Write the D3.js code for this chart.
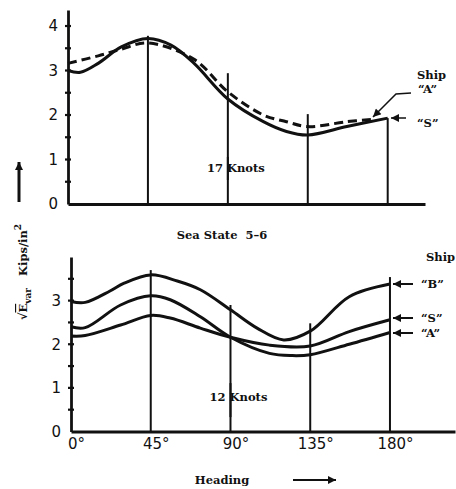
<!DOCTYPE html>
<html>
<head>
<meta charset="utf-8">
<script src="https://cdn.jsdelivr.net/npm/d3@7"></script>
<style>
  body { margin: 0; background: #fff; }
  svg { display: block; }
  .num { font-family: "DejaVu Sans", sans-serif; font-size: 15px; fill: #111; }
  .lbl { font-family: "DejaVu Serif", serif; font-weight: bold; font-size: 11.5px; fill: #111; }
</style>
</head>
<body>
<svg></svg>
<script>
const headingTicks = [0, 45, 90, 135, 180];
const topValueTicks = [0, 1, 2, 3, 4];
const botValueTicks = [0, 1, 2, 3];
const halfTicks = [0.5, 1.5, 2.5, 3.5];

// upper panel, 17 knots
const topHeadS = [0, 7, 17, 30, 45, 58, 71, 90, 110, 123, 135, 157, 180];
const topShipS = [3.0, 2.96, 3.16, 3.53, 3.72, 3.57, 3.16, 2.36, 1.85, 1.63, 1.55, 1.74, 1.93];
const topHeadA = [0, 17, 30, 45, 71, 90, 110, 123, 135, 157, 171];
const topShipA = [3.16, 3.33, 3.48, 3.62, 3.25, 2.52, 2.0, 1.85, 1.74, 1.85, 1.9];
const topRuleHeads = [45, 90, 135, 180];
const topRuleTops = [3.78, 2.94, 2.02, 1.93];

// lower panel, 12 knots
const botHeadB = [0, 8, 22, 30, 45, 60, 73, 90, 105, 120, 135, 157, 180];
const botShipB = [2.98, 2.96, 3.22, 3.4, 3.59, 3.45, 3.25, 2.79, 2.37, 2.1, 2.3, 3.09, 3.38];
const botHeadS = [0, 8, 28, 45, 56, 73, 90, 112, 135, 157, 180];
const botShipS = [2.19, 2.2, 2.44, 2.66, 2.6, 2.37, 2.16, 1.98, 1.96, 2.29, 2.56];
const botHeadA = [0, 8, 28, 45, 56, 73, 90, 112, 125, 135, 157, 180];
const botShipA = [2.4, 2.38, 2.9, 3.11, 3.02, 2.63, 2.16, 1.79, 1.74, 1.76, 2.0, 2.27];
const botRuleHeads = [45, 90, 135, 180];
const botRuleTops = [3.7, 2.9, 2.48, 3.54];

const width = 456;
const height = 489;
const ink = "#111";

const svg = d3.select("svg").attr("width", width).attr("height", height);

const defs = svg.append("defs");
defs.append("marker")
  .attr("id", "head")
  .attr("viewBox", "0 0 10 10")
  .attr("refX", 10).attr("refY", 5)
  .attr("markerWidth", 11).attr("markerHeight", 8)
  .attr("markerUnits", "userSpaceOnUse")
  .attr("orient", "auto")
  .append("path").attr("d", "M0,0 L10,5 L0,10 Z").attr("fill", ink);

function panel(opt) {
  const x = d3.scaleLinear([0, opt.xMax], [opt.left, opt.right]);
  const y = d3.scaleLinear([0, opt.yMax], [opt.bottom, opt.top]);
  const g = svg.append("g");

  // y axis, labels on whole units
  const yAxis = d3.axisLeft(y)
    .tickValues(opt.yLabels)
    .tickFormat(d3.format("d"))
    .tickSize(0)
    .tickPadding(10);
  const ya = g.append("g").attr("transform", `translate(${opt.left},0)`).call(yAxis);
  ya.select(".domain").attr("stroke", ink).attr("stroke-width", 2.8);
  ya.selectAll("text").attr("class", "num").attr("font-size", null).attr("font-family", null);
  // small ticks every half unit
  g.selectAll(".ytick")
    .data(opt.yLabels.concat(halfTicks).filter(d => d > 0))
    .enter().append("line")
    .attr("x1", opt.left - 3).attr("x2", opt.left + 3)
    .attr("y1", d => y(d)).attr("y2", d => y(d))
    .attr("stroke", ink).attr("stroke-width", 2.2);

  // x axis
  const xAxis = d3.axisBottom(x).tickValues(headingTicks).tickSize(0).tickPadding(7)
    .tickFormat(d => opt.xLabels ? d + "°" : "");
  const xa = g.append("g").attr("transform", `translate(0,${opt.bottom})`).call(xAxis);
  xa.select(".domain").attr("stroke", ink).attr("stroke-width", 2.8);
  xa.selectAll("text").attr("class", "num").attr("font-size", null).attr("font-family", null)
    .attr("dx", 5);

  // vertical rules at the heading ticks
  opt.ruleHeads.forEach((h, i) => {
    const segs = h === 90 ? [[0, opt.gap[0]], [opt.gap[1], opt.ruleTops[i]]] : [[0, opt.ruleTops[i]]];
    segs.forEach(s => {
      g.append("line")
        .attr("x1", x(h)).attr("x2", x(h))
        .attr("y1", y(s[0])).attr("y2", y(s[1]))
        .attr("stroke", ink).attr("stroke-width", 2);
    });
  });

  const line = d3.line()
    .x(d => x(d[0]))
    .y(d => y(d[1]))
    .curve(d3.curveCatmullRom.alpha(0.5));

  opt.series.forEach(s => {
    g.append("path")
      .datum(d3.zip(s.heads, s.values))
      .attr("d", line)
      .attr("fill", "none")
      .attr("stroke", ink)
      .attr("stroke-width", 3)
      .attr("stroke-dasharray", s.dash || null);
  });

  g.append("text").attr("class", "lbl")
    .attr("x", x(90) + 8).attr("y", y(opt.knotsAt))
    .attr("text-anchor", "middle").attr("dy", "0.35em")
    .attr("font-size", "12px")
    .text(opt.knots);

  return { x, y };
}

const upperPanel = panel({
  left: 68, right: 425, top: 10, bottom: 204, xMax: 201, yMax: 4.36,
  xLabels: false, yLabels: topValueTicks,
  ruleHeads: topRuleHeads, ruleTops: topRuleTops, gap: [1.06, 0.54],
  knots: "17 Knots", knotsAt: 0.8,
  series: [
    { heads: topHeadS, values: topShipS },
    { heads: topHeadA, values: topShipA, dash: "9,5" }
  ]
});

const lowerPanel = panel({
  left: 71, right: 455, top: 257, bottom: 431.5, xMax: 216.7, yMax: 4.0,
  xLabels: true, yLabels: botValueTicks,
  ruleHeads: botRuleHeads, ruleTops: botRuleTops, gap: [1.11, 0.33],
  knots: "12 Knots", knotsAt: 0.79,
  series: [
    { heads: botHeadB, values: botShipB },
    { heads: botHeadS, values: botShipS },
    { heads: botHeadA, values: botShipA }
  ]
});

// labels on the right, upper panel
svg.append("text").attr("class", "lbl").attr("x", 417).attr("y", 79).text("Ship");
svg.append("text").attr("class", "lbl").attr("x", 418).attr("y", 93).text("“A”");
svg.append("text").attr("class", "lbl").attr("x", 417).attr("y", 127).text("“S”");
svg.append("path")
  .attr("d", "M411,93 L396,94 L373,117")
  .attr("fill", "none").attr("stroke", ink).attr("stroke-width", 1.5)
  .attr("marker-end", "url(#head)");
svg.append("path")
  .attr("d", "M406,118 L391,118")
  .attr("fill", "none").attr("stroke", ink).attr("stroke-width", 1.5)
  .attr("marker-end", "url(#head)");

// labels on the right, lower panel
svg.append("text").attr("class", "lbl").attr("x", 426).attr("y", 261).text("Ship");
[["“B”", 284], ["“S”", 318], ["“A”", 333]].forEach(([t, yy]) => {
  svg.append("text").attr("class", "lbl").attr("x", 421).attr("y", yy + 4).text(t);
  svg.append("path")
    .attr("d", `M413,${yy} L393,${yy}`)
    .attr("stroke", ink).attr("stroke-width", 2)
    .attr("marker-end", "url(#head)");
});

// middle caption and axis titles
svg.append("text").attr("class", "lbl")
  .attr("x", 222).attr("y", 239).attr("text-anchor", "middle")
  .attr("xml:space", "preserve")
  .text("Sea State  5–6");

const yt = svg.append("text").attr("class", "lbl")
  .attr("transform", "translate(27,272) rotate(-90)")
  .attr("text-anchor", "middle")
  .attr("font-size", "13px");
yt.append("tspan").text("√");
yt.append("tspan").attr("text-decoration", "overline").text("E");
yt.append("tspan").attr("font-size", "9px").attr("dy", 4).text("var");
yt.append("tspan").attr("dy", -4).attr("xml:space", "preserve").text("   Kips/in");
yt.append("tspan").attr("font-size", "9px").attr("dy", -6).text("2");

svg.append("path")
  .attr("d", "M19,202 L19,162")
  .attr("stroke", ink).attr("stroke-width", 3)
  .attr("marker-end", "url(#head)");

svg.append("text").attr("class", "lbl")
  .attr("x", 222).attr("y", 484).attr("text-anchor", "middle")
  .text("Heading");
svg.append("path")
  .attr("d", "M293,480 L336,480")
  .attr("stroke", ink).attr("stroke-width", 2)
  .attr("marker-end", "url(#head)");
</script>
</body>
</html>
